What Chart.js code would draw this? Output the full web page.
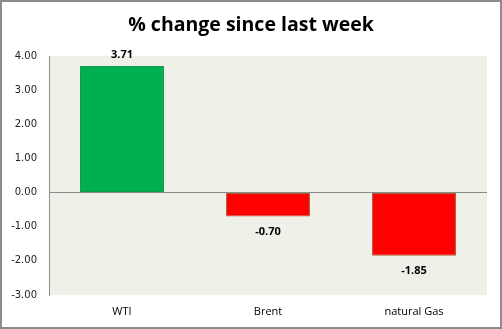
<!DOCTYPE html>
<html>
<head>
<meta charset="utf-8">
<script src="https://cdn.jsdelivr.net/npm/chart.js@4/dist/chart.umd.min.js"></script>
<style>
  body { margin: 0; background: #fff; }
</style>
</head>
<body>
<canvas id="bar-chart" width="502" height="329"></canvas>
<script>
const chartTitle = "% change since last week";
const categories = ["WTI", "Brent", "natural Gas"];
const changes = [3.71, -0.70, -1.85];
const barColors = ["#00B050", "#FF0000", "#FF0000"];
const barBorders = ["#0E9A4A", "#A8643C", "#A8643C"];

// plot background, outer frame and title (centred on the whole picture)
const framePlugin = {
    id: "frame",
    beforeDraw(chart) {
        const ctx = chart.ctx;
        const a = chart.chartArea;
        ctx.save();
        ctx.fillStyle = "#fff";
        ctx.fillRect(0, 0, chart.width, chart.height);
        ctx.fillStyle = "#EFF1E9";
        ctx.fillRect(a.left, a.top, a.right - a.left, a.bottom - a.top);
        ctx.restore();
    },
    afterDraw(chart) {
        const ctx = chart.ctx;
        ctx.save();
        ctx.fillStyle = "#000";
        ctx.font = "bold 19.5px 'Open Sans'";
        ctx.textAlign = "center";
        ctx.textBaseline = "middle";
        ctx.fillText(chartTitle, chart.width / 2, 25);
        ctx.strokeStyle = "#8C8C8C";
        ctx.lineWidth = 2;
        ctx.strokeRect(1, 1, chart.width - 2, chart.height - 2);
        ctx.restore();
    }
};

// value labels above / below the bars
const valueLabels = {
    id: "valueLabels",
    afterDatasetsDraw(chart) {
        const ctx = chart.ctx;
        const meta = chart.getDatasetMeta(0);
        ctx.save();
        ctx.font = "bold 11px 'Open Sans'";
        ctx.fillStyle = "#000";
        ctx.textAlign = "center";
        ctx.textBaseline = "middle";
        meta.data.forEach(function(bar, i) {
            const v = changes[i];
            const y = v >= 0 ? bar.y - 11 : bar.y + 15;
            ctx.fillText(v.toFixed(2), bar.x, y);
        });
        ctx.restore();
    }
};

var ctx = document.getElementById("bar-chart").getContext("2d");
var myChart = new Chart(ctx, {
    type: "bar",
    data: {
        labels: categories,
        datasets: [{
            data: changes,
            backgroundColor: barColors,
            borderColor: barBorders,
            borderWidth: 1,
            borderSkipped: false,
            categoryPercentage: 1,
            barPercentage: 0.575
        }]
    },
    options: {
        responsive: false,
        animation: false,
        layout: { padding: { left: 0, right: 15, top: 56, bottom: 0 } },
        plugins: {
            legend: { display: false },
            tooltip: { enabled: false },
            title: { display: false }
        },
        scales: {
            y: {
                min: -3,
                max: 4,
                afterFit: function(scale) { scale.width = 49; },
                ticks: {
                    stepSize: 1,
                    padding: 12,
                    color: "#222",
                    font: { family: "'DejaVu Sans'", size: 10 },
                    callback: function(v) { return v.toFixed(2); }
                },
                grid: {
                    drawTicks: false,
                    color: function(c) { return c.tick && c.tick.value === 0 ? "#8C8C8C" : "rgba(0,0,0,0)"; }
                },
                border: { display: true, color: "#8C8C8C", width: 1 }
            },
            x: {
                afterFit: function(scale) { scale.height = 34; },
                ticks: {
                    padding: 10,
                    color: "#000",
                    font: { family: "'Open Sans'", size: 11 }
                },
                grid: { display: false, drawTicks: false },
                border: { display: false }
            }
        }
    },
    plugins: [framePlugin, valueLabels]
});
</script>
</body>
</html>
